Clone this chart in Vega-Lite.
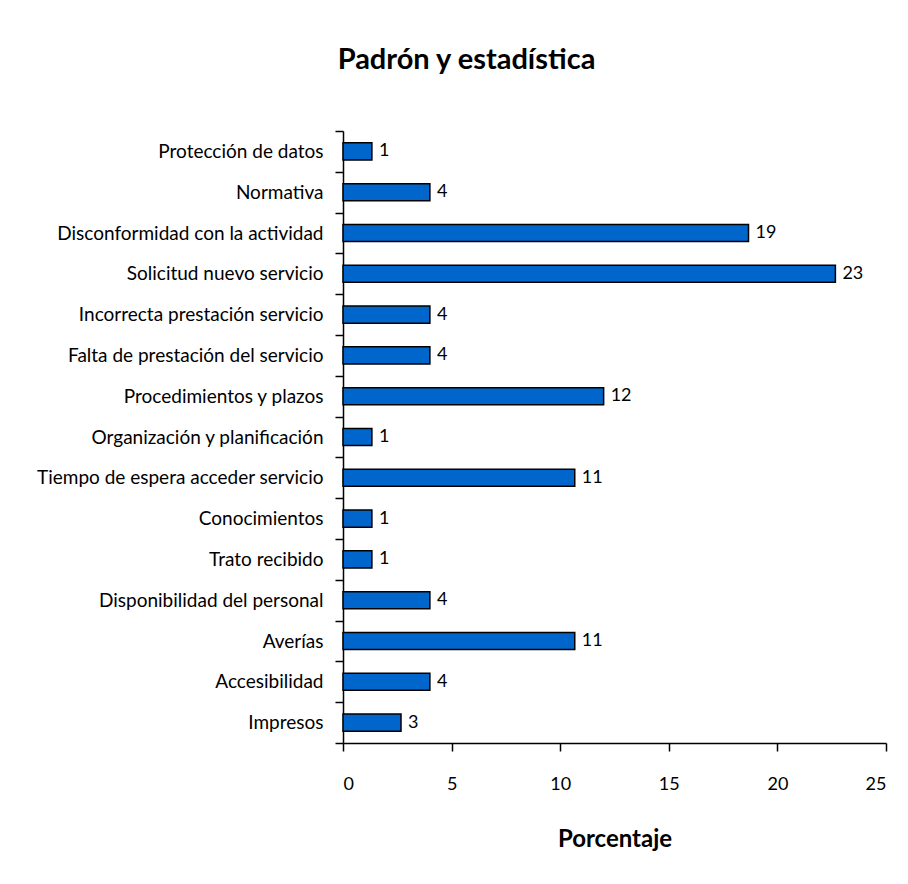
{
  "$schema": "https://vega.github.io/schema/vega-lite/v6.json",
  "width": 543,
  "height": 612,
  "autosize": {"type": "none"},
  "padding": {"left": 343, "top": 131, "right": 22, "bottom": 141},
  "background": "white",
  "title": {
    "text": "Padrón y estadística",
    "font": "Lato",
    "fontSize": 29,
    "fontWeight": "bold",
    "color": "black",
    "anchor": "middle",
    "dx": -148,
    "offset": 47
  },
  "data": {
    "values": [
      {"categoria": "Protección de datos", "porcentaje": 1.33},
      {"categoria": "Normativa", "porcentaje": 4.0},
      {"categoria": "Disconformidad con la actividad", "porcentaje": 18.67},
      {"categoria": "Solicitud nuevo servicio", "porcentaje": 22.67},
      {"categoria": "Incorrecta prestación servicio", "porcentaje": 4.0},
      {"categoria": "Falta de prestación del servicio ", "porcentaje": 4.0},
      {"categoria": "Procedimientos y plazos", "porcentaje": 12.0},
      {"categoria": "Organización y planificación", "porcentaje": 1.33},
      {"categoria": "Tiempo de espera acceder servicio", "porcentaje": 10.67},
      {"categoria": "Conocimientos", "porcentaje": 1.33},
      {"categoria": "Trato recibido", "porcentaje": 1.33},
      {"categoria": "Disponibilidad del personal", "porcentaje": 4.0},
      {"categoria": "Averías", "porcentaje": 10.67},
      {"categoria": "Accesibilidad", "porcentaje": 4.0},
      {"categoria": "Impresos", "porcentaje": 2.67}
    ]
  },
  "encoding": {
    "y": {
      "field": "categoria",
      "type": "nominal",
      "sort": null,
      "scale": {"paddingInner": 0, "paddingOuter": 0},
      "axis": {
        "title": null,
        "tickBand": "extent",
        "tickSize": 8,
        "tickWidth": 1.5,
        "tickColor": "black",
        "domainColor": "black",
        "domainWidth": 1.5,
        "labelPadding": 12,
        "labelFont": "Lato",
        "labelFontSize": 19,
        "labelColor": "black",
        "labelLimit": 400
      }
    },
    "x": {
      "field": "porcentaje",
      "type": "quantitative",
      "scale": {"domain": [0, 25], "nice": false},
      "axis": {
        "title": "Porcentaje",
        "values": [0, 5, 10, 15, 20, 25],
        "grid": false,
        "tickSize": 8,
        "tickWidth": 1.5,
        "tickColor": "black",
        "domainColor": "black",
        "domainWidth": 1.5,
        "labelPadding": 24,
        "labelFont": "Lato",
        "labelFontSize": 18,
        "labelColor": "black",
        "titleFont": "Lato",
        "titleFontSize": 24,
        "titleFontWeight": "bold",
        "titleColor": "black",
        "titlePadding": 34
      }
    }
  },
  "layer": [
    {
      "mark": {"type": "bar", "color": "#0066CC", "stroke": "black", "strokeWidth": 1.5, "height": {"band": 0.42}}
    },
    {
      "mark": {"type": "text", "align": "left", "baseline": "middle", "dx": 7, "font": "Lato", "fontSize": 18, "color": "black"},
      "encoding": {
        "text": {"field": "porcentaje", "type": "quantitative", "format": ".0f"}
      }
    }
  ],
  "config": {
    "view": {"stroke": null}
  }
}
